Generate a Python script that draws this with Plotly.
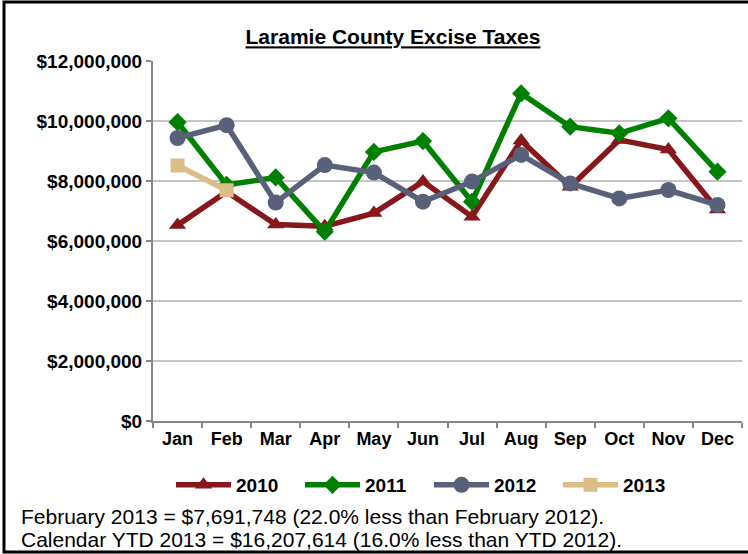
import plotly.graph_objects as go

months = ["Jan", "Feb", "Mar", "Apr", "May", "Jun", "Jul", "Aug", "Sep", "Oct", "Nov", "Dec"]
taxes_2010 = [6.53e6, 7.64e6, 6.55e6, 6.49e6, 6.93e6, 7.98e6, 6.81e6, 9.35e6, 7.81e6, 9.37e6, 9.05e6, 7.05e6]
taxes_2011 = [9.96e6, 7.87e6, 8.12e6, 6.31e6, 8.97e6, 9.33e6, 7.31e6, 10.92e6, 9.81e6, 9.59e6, 10.09e6, 8.31e6]
taxes_2012 = [9.434e6, 9.861e6, 7.28e6, 8.53e6, 8.28e6, 7.31e6, 7.98e6, 8.87e6, 7.92e6, 7.42e6, 7.70e6, 7.20e6]
taxes_2013 = [8515866, 7691748]
year_labels = ["2010", "2011", "2012", "2013"]
note_lines = [
    "February 2013 = $7,691,748 (22.0% less than February 2012).",
    "Calendar YTD 2013 = $16,207,614 (16.0% less than YTD 2012).",
]

FONT = "Liberation Sans, Arial, sans-serif"
W, H = 748, 554
L, R, T, B = 153, 6, 61, 133
PW, PH = W - L - R, H - T - B

def px_x(x):
    return (x - L) / PW

def px_y(y):
    return (H - B - y) / PH

series = [
    (taxes_2010, "#86171a", "triangle-up", 15),
    (taxes_2011, "#008000", "diamond", 14),
    (taxes_2012, "#586179", "circle", 16),
    (taxes_2013, "#dcbd85", "square", 14),
]

fig = go.Figure()
for name, (vals, color, sym, size) in zip(year_labels, series):
    fig.add_trace(go.Scatter(
        x=months[:len(vals)], y=vals, name=name, mode="lines+markers",
        line=dict(color=color, width=5.5),
        marker=dict(symbol=sym, size=size, color=color),
    ))

fig.update_layout(
    width=W, height=H,
    margin=dict(l=L, r=R, t=T, b=B),
    paper_bgcolor="white", plot_bgcolor="white",
    font=dict(family=FONT, color="black"),
    title=dict(text="<b><u>Laramie County Excise Taxes</u></b>",
               x=393 / W, xref="container", xanchor="center",
               y=1 - 37 / H, yref="container", yanchor="middle",
               font=dict(size=21, family=FONT, color="black")),
    showlegend=True,
    legend=dict(orientation="h", x=px_x(171), xanchor="left", y=px_y(485), yanchor="middle",
                font=dict(size=19, family=FONT, color="black", weight="bold"),
                itemwidth=55, entrywidth=59, entrywidthmode="pixels", tracegroupgap=0),
    xaxis=dict(type="category", categoryorder="array", categoryarray=months,
               range=[-0.5, 11.5], showline=True, linecolor="#868686", linewidth=2,
               ticks="outside", tickson="boundaries", ticklen=5, tickcolor="#868686", tickwidth=2,
               tickfont=dict(size=18, family=FONT, color="black", weight="bold"),
               showgrid=False, zeroline=False),
    yaxis=dict(range=[0, 12e6], dtick=2e6, tickformat="$,.0f",
               showline=True, linecolor="#868686", linewidth=2,
               ticks="outside", ticklen=5, tickcolor="#868686", tickwidth=2,
               gridcolor="#c4c4c4", gridwidth=2, zeroline=False,
               tickfont=dict(size=19, family=FONT, color="black", weight="bold")),
)

for i, line in enumerate(note_lines):
    fig.add_annotation(text=line, xref="paper", yref="paper",
                       x=px_x(19), y=px_y(516 + 23 * i), xanchor="left", yanchor="middle",
                       showarrow=False, font=dict(size=21, family=FONT, color="black"))

fig.add_shape(type="rect", xref="paper", yref="paper",
              x0=px_x(4), x1=px_x(760), y0=px_y(552), y1=px_y(2),
              line=dict(color="black", width=3), layer="above")

fig.write_html("out.html", config={"displayModeBar": False},
               post_script="document.body.style.margin='0';document.body.style.overflow='hidden';")
